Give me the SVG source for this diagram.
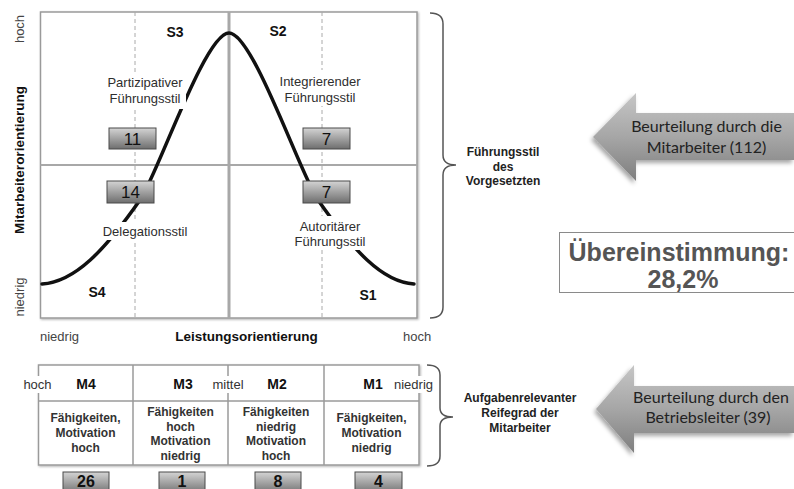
<svg xmlns="http://www.w3.org/2000/svg" width="794" height="489" viewBox="0 0 794 489">
<defs>
<linearGradient id="boxg" x1="0" y1="0" x2="0" y2="1">
<stop offset="0" stop-color="#d4d4d4"/>
<stop offset="1" stop-color="#6e6e6e"/>
</linearGradient>
<linearGradient id="arrg" x1="0" y1="0" x2="0" y2="1">
<stop offset="0" stop-color="#c6c6c6"/>
<stop offset="0.5" stop-color="#a6a6a6"/>
<stop offset="1" stop-color="#7e7e7e"/>
</linearGradient>
<filter id="sh" x="-10%" y="-10%" width="120%" height="130%">
<feDropShadow dx="-2" dy="3" stdDeviation="2" flood-color="#000" flood-opacity="0.35"/>
</filter>
<filter id="sh2" x="-10%" y="-10%" width="120%" height="130%">
<feDropShadow dx="1" dy="1" stdDeviation="0.8" flood-color="#000" flood-opacity="0.3"/>
</filter>
</defs>
<style>
text{font-family:"Liberation Sans",Arial,sans-serif}
.lbl{font-size:13px;fill:#2e2e2e;text-anchor:middle}
.s{font-size:14px;font-weight:bold;fill:#111;text-anchor:middle}
.ax{font-size:13px;fill:#444}
.axb{font-size:13.5px;font-weight:bold;fill:#111;text-anchor:middle}
.num{font-size:17px;fill:#111;text-anchor:middle}
.numb{font-size:16px;font-weight:bold;fill:#111;text-anchor:middle}
.nb{fill:url(#boxg);stroke:#4a4a4a;stroke-width:1}
.bg{fill:#fff}
.dash{stroke:#aaa;stroke-width:1;stroke-dasharray:4 3}
.brace{fill:none;stroke:#555;stroke-width:1.5}
.side{font-size:12px;font-weight:bold;fill:#222;text-anchor:middle}
.cell{font-size:12px;font-weight:bold;fill:#333;text-anchor:middle}
.m{font-size:14px;font-weight:bold;fill:#111;text-anchor:middle}
.lv{font-size:13px;fill:#333;text-anchor:middle}
.arr{fill:url(#arrg);filter:url(#sh)}
.at{font-family:Lato,"Liberation Sans",sans-serif;font-size:16px;fill:#222;text-anchor:middle}
.big{font-size:25px;font-weight:bold;fill:#555;text-anchor:middle}
</style>

<g id="chart">
<rect x="40.5" y="12" width="376.5" height="306" fill="#fff" stroke="#9a9a9a" stroke-width="1.5" filter="url(#sh2)"/>
<line class="dash" x1="135" y1="12" x2="135" y2="318"/>
<line class="dash" x1="322" y1="12" x2="322" y2="318"/>
<line x1="40.5" y1="165" x2="417" y2="165" stroke="#a8a8a8" stroke-width="2"/>
<line x1="229" y1="12" x2="229" y2="318" stroke="#a8a8a8" stroke-width="3"/>
<path id="curve" d="M42,284 C75,282 105,250 140,200 C157.5,175 205,33 229,33 C253,33 300.5,175 318,200 C353,250 382,282 414,284" fill="none" stroke="#111" stroke-width="3.5" stroke-linecap="round"/>
</g>

<g id="s3"><text class="s" x="175" y="37">S3</text></g>
<g id="s2"><text class="s" x="278" y="36">S2</text></g>
<g id="s4"><text class="s" x="97" y="297">S4</text></g>
<g id="s1"><text class="s" x="368" y="300">S1</text></g>

<g id="partizipativ">
<rect class="bg" x="103" y="75" width="83" height="34"/>
<text class="lbl" x="145" y="87">Partizipativer</text>
<text class="lbl" x="145" y="103">Führungsstil</text>
</g>
<g id="integrierend">
<rect class="bg" x="277" y="70" width="86" height="36"/>
<text class="lbl" x="320" y="85.5">Integrierender</text>
<text class="lbl" x="320" y="101.5">Führungsstil</text>
</g>
<g id="delegation">
<rect class="bg" x="101" y="222" width="89" height="18"/>
<text class="lbl" x="145" y="235.5">Delegationsstil</text>
</g>
<g id="autoritaer">
<rect class="bg" x="292" y="216" width="77" height="34"/>
<text class="lbl" x="330" y="231">Autoritärer</text>
<text class="lbl" x="330" y="245.5">Führungsstil</text>
</g>

<g id="n11"><rect class="nb" x="109" y="128" width="47" height="21"/><text class="num" x="132.5" y="144.5">11</text></g>
<g id="n7a"><rect class="nb" x="303" y="128" width="47" height="21"/><text class="num" x="326.5" y="144.5">7</text></g>
<g id="n14"><rect class="nb" x="107" y="181" width="47" height="22"/><text class="num" x="130.5" y="198">14</text></g>
<g id="n7b"><rect class="nb" x="303" y="181" width="47" height="22"/><text class="num" x="326.5" y="198">7</text></g>

<g id="axes">
<text class="ax" transform="translate(24,29) rotate(-90)" text-anchor="middle">hoch</text>
<text class="axb" transform="translate(24,160) rotate(-90)">Mitarbeiterorientierung</text>
<text class="ax" transform="translate(24,297) rotate(-90)" text-anchor="middle">niedrig</text>
<text class="ax" x="40" y="341">niedrig</text>
<text class="axb" x="246.5" y="341">Leistungsorientierung</text>
<text class="ax" x="403" y="341">hoch</text>
</g>

<g id="connectors">
<path class="brace" d="M430,13 Q443,13 443,24 L443,155 Q443,165 456,165 Q443,165 443,175 L443,307 Q443,318 430,318"/>
<path class="brace" d="M427,365 Q440,365 440,375 L440,408 Q440,417 453,417 Q440,417 440,426 L440,456 Q440,466 427,466"/>
</g>

<g id="fuehrungsstil">
<text class="side" x="503" y="156">Führungsstil</text>
<text class="side" x="503" y="170.5">des</text>
<text class="side" x="503" y="185">Vorgesetzten</text>
</g>

<g id="arrow1">
<path class="arr" d="M593,137 L636,93 L636,113 L794,113 L794,160 L636,160 L636,181 Z"/>
<text class="at" x="706.5" y="132">Beurteilung durch die</text>
<text class="at" x="706.5" y="153">Mitarbeiter (112)</text>
</g>

<g id="uebereinstimmung">
<rect x="559.5" y="232.5" width="240" height="60" fill="#fff" stroke="#8a8a8a" stroke-width="1"/>
<text class="big" x="679" y="261">Übereinstimmung:</text>
<text class="big" x="683" y="288">28,2%</text>
</g>

<g id="table">
<rect x="38.5" y="365" width="380.5" height="100" fill="#fff" stroke="#9a9a9a" stroke-width="1.5" filter="url(#sh2)"/>
<line x1="38.5" y1="401" x2="419" y2="401" stroke="#9a9a9a" stroke-width="1.5"/>
<line x1="133" y1="365" x2="133" y2="465" stroke="#9a9a9a" stroke-width="1.5"/>
<line x1="228" y1="365" x2="228" y2="465" stroke="#9a9a9a" stroke-width="1.5"/>
<line x1="324" y1="365" x2="324" y2="465" stroke="#9a9a9a" stroke-width="1.5"/>
</g>

<g id="m4">
<rect class="bg" x="22" y="376" width="31" height="17"/>
<text class="lv" x="37.5" y="389">hoch</text>
<text class="m" x="86" y="389">M4</text>
<text class="cell" x="85.5" y="422">Fähigkeiten,</text>
<text class="cell" x="85.5" y="437">Motivation</text>
<text class="cell" x="85.5" y="452">hoch</text>
</g>
<g id="m3">
<text class="m" x="183" y="389">M3</text>
<rect class="bg" x="211" y="376" width="34" height="17"/>
<text class="lv" x="228" y="389">mittel</text>
<text class="cell" x="180.5" y="416">Fähigkeiten</text>
<text class="cell" x="180.5" y="430.5">hoch</text>
<text class="cell" x="180.5" y="445">Motivation</text>
<text class="cell" x="180.5" y="460">niedrig</text>
</g>
<g id="m2">
<text class="m" x="277" y="389">M2</text>
<text class="cell" x="276" y="416">Fähigkeiten</text>
<text class="cell" x="276" y="430.5">niedrig</text>
<text class="cell" x="276" y="445">Motivation</text>
<text class="cell" x="276" y="460">hoch</text>
</g>
<g id="m1">
<text class="m" x="373" y="389">M1</text>
<rect class="bg" x="393" y="376" width="42" height="17"/>
<text class="lv" x="413.5" y="389">niedrig</text>
<text class="cell" x="371.5" y="422">Fähigkeiten,</text>
<text class="cell" x="371.5" y="437">Motivation</text>
<text class="cell" x="371.5" y="452">niedrig</text>
</g>

<g id="n26"><rect class="nb" x="63" y="472" width="46" height="22"/><text class="numb" x="86" y="486.5">26</text></g>
<g id="n1"><rect class="nb" x="159" y="472" width="46" height="22"/><text class="numb" x="182" y="486.5">1</text></g>
<g id="n8"><rect class="nb" x="255" y="472" width="46" height="22"/><text class="numb" x="278" y="486.5">8</text></g>
<g id="n4"><rect class="nb" x="355" y="472" width="47" height="22"/><text class="numb" x="378.5" y="486.5">4</text></g>

<g id="reifegrad">
<text class="side" x="520" y="402">Aufgabenrelevanter</text>
<text class="side" x="520" y="417">Reifegrad der</text>
<text class="side" x="520" y="431.5">Mitarbeiter</text>
</g>

<g id="arrow2">
<path class="arr" d="M596,409 L634,365 L634,386 L794,386 L794,433 L634,433 L634,453 Z"/>
<text class="at" x="711" y="403">Beurteilung durch den</text>
<text class="at" x="708" y="423">Betriebsleiter (39)</text>
</g>
</svg>
